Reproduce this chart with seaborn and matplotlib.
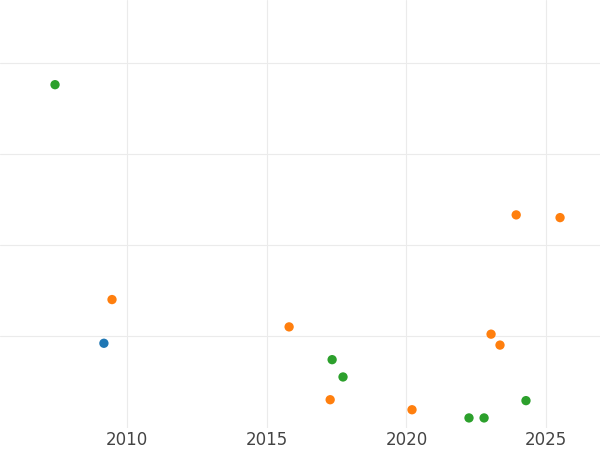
import matplotlib
matplotlib.use("Agg")
import matplotlib.pyplot as plt
import seaborn as sns
import pandas as pd

years = [2007.42, 2009.46, 2009.17, 2015.80, 2017.34, 2017.73, 2017.27, 2020.20,
         2022.24, 2022.78, 2023.03, 2023.35, 2023.93, 2025.50, 2024.28]
values = [3.76, 1.40, 0.92, 1.10, 0.74, 0.55, 0.30, 0.19,
          0.10, 0.10, 1.02, 0.90, 2.33, 2.30, 0.29]
groups = ["c", "b", "a", "b", "c", "c", "b", "b",
          "c", "c", "b", "b", "b", "b", "c"]

df = pd.DataFrame({"year": years, "value": values, "group": groups})

sns.set_style("whitegrid")
fig = plt.figure(figsize=(6, 4.5), dpi=100)
ax = fig.add_axes([0, 0.049, 1, 0.951])
sns.scatterplot(data=df, x="year", y="value", hue="group",
                hue_order=["a", "b", "c"],
                palette=["#1f77b4", "#ff7f0e", "#2ca02c"],
                s=45, edgecolor="none", legend=False, ax=ax)
ax.set_xlim(2005.45, 2026.93)
ax.set_ylim(-0.01, 4.69)
ax.set_xticks([2010, 2015, 2020, 2025])
ax.set_yticks([1, 2, 3, 4])
ax.set_yticklabels([])
ax.tick_params(axis="y", length=0)
ax.tick_params(axis="x", length=0, labelsize=12, colors="#444444", pad=2)
ax.grid(color="#ebebeb", linewidth=0.8)
ax.set_xlabel("")
ax.set_ylabel("")
for s in ax.spines.values():
    s.set_visible(False)
fig.savefig("out.png", dpi=100)
